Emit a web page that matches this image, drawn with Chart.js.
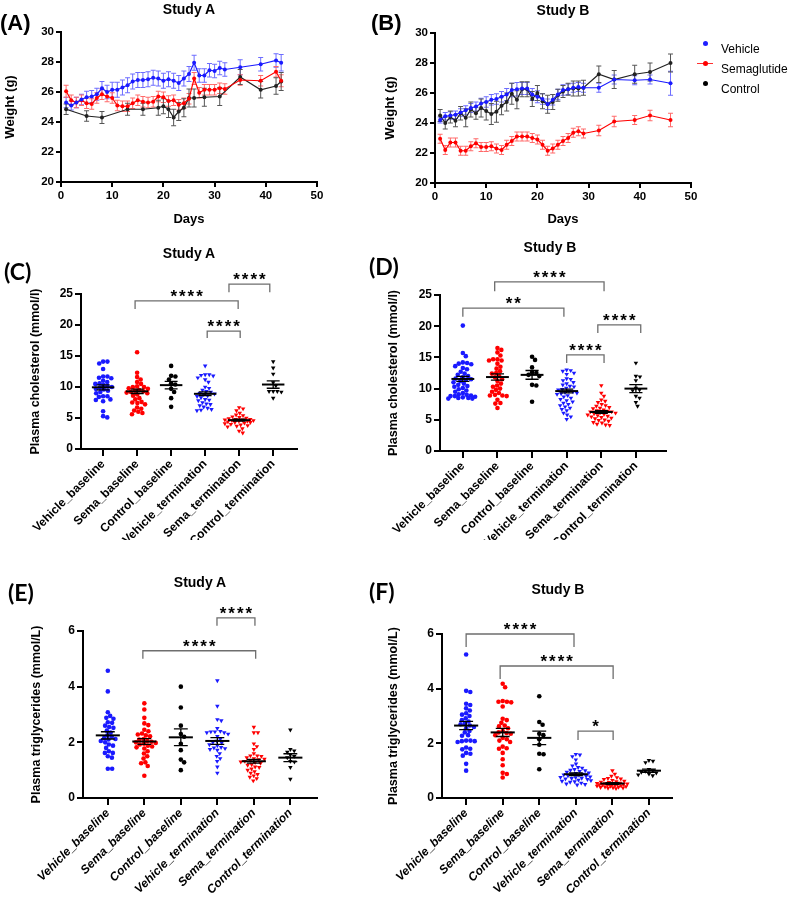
<!DOCTYPE html>
<html>
<head>
<meta charset="utf-8">
<script src="https://cdn.jsdelivr.net/npm/chart.js@4.4.1/dist/chart.umd.min.js"></script>
<style>
    body { margin: 0; background: #fff; width: 789px; height: 902px; position: relative; overflow: hidden;
           font-family: "Liberation Sans", Arial, sans-serif; }
    canvas { position: absolute; }
    .title { position: absolute; font-weight: bold; font-size: 14px; line-height: 1; white-space: nowrap; transform: translate(-50%, -50%); }
    .letter { position: absolute; font-weight: bold; font-size: 22px; line-height: 1; white-space: nowrap; }
    .letter.calib { font-family: Lato, "Liberation Sans", sans-serif; font-size: 23px; }
    .legend { position: absolute; left: 697px; font-size: 12px; line-height: 1; }
    .legend div { position: absolute; white-space: nowrap; transform: translateY(-50%); }
    .legend .dot { position: absolute; width: 5px; height: 5px; border-radius: 3px; left: 6px; top: 50%; margin-top: -2.5px; }
    .legend .ln { position: absolute; width: 16px; height: 1px; left: 0; top: 50%; }
    .legend span.txt { position: absolute; left: 24px; }
</style>
</head>
<body>

<canvas id="chartA" width="380" height="230" style="left:0;top:0"></canvas>
<canvas id="chartB" width="409" height="230" style="left:380px;top:0"></canvas>
<canvas id="chartC" width="380" height="310" style="left:0;top:230px"></canvas>
<canvas id="chartD" width="409" height="310" style="left:380px;top:230px"></canvas>
<canvas id="chartE" width="380" height="362" style="left:0;top:540px"></canvas>
<canvas id="chartF" width="409" height="362" style="left:380px;top:540px"></canvas>

<div class="letter" style="left:0;top:12px">(A)</div>
<div class="letter" style="left:371px;top:12px">(B)</div>
<div class="letter calib" style="left:4px;top:260px">(C)</div>
<div class="letter calib" style="left:369px;top:255px">(D)</div>
<div class="letter calib" style="left:8px;top:581px">(E)</div>
<div class="letter calib" style="left:369px;top:580px">(F)</div>

<div class="title" style="left:189px;top:9px">Study A</div>
<div class="title" style="left:563px;top:10px">Study B</div>
<div class="title" style="left:189px;top:253px">Study A</div>
<div class="title" style="left:550px;top:247px">Study B</div>
<div class="title" style="left:200px;top:582px">Study A</div>
<div class="title" style="left:558px;top:589px">Study B</div>

<div class="legend" style="top:0">
    <div style="top:43px"><i class="dot" style="background:#1f1fff"></i><span class="txt">Vehicle</span></div>
    <div style="top:63px"><i class="ln" style="background:#ff3030"></i><i class="dot" style="background:#ff0000"></i><span class="txt">Semaglutide</span></div>
    <div style="top:83px"><i class="dot" style="background:#000"></i><span class="txt">Control</span></div>
</div>

<script>
/* ------------------------------- Data: body weight -------------------------------*/

const DAYS_A = [1, 2, 3, 4, 5, 6, 7, 8, 9, 10, 11, 12, 13, 14, 15, 16, 17, 18, 19, 20,
                21, 22, 23, 24, 25, 26, 27, 28, 29, 30, 31, 32, 35, 39, 42, 43];
const VEHICLE_A = [25.3, 25.1, 25.3, 25.5, 25.65, 25.7, 25.85, 26.25, 26.0, 26.15, 26.15, 26.3, 26.45, 26.7,
                   26.8, 26.8, 26.85, 26.95, 26.9, 26.75, 26.85, 26.75, 26.6, 26.9, 27.2, 27.95, 27.1, 27.1,
                   27.45, 27.4, 27.6, 27.5, 27.65, 27.85, 28.1, 27.95];
const VEHICLE_A_ERR = [0.35, 0.3, 0.35, 0.35, 0.4, 0.4, 0.4, 0.45, 0.45, 0.5, 0.5, 0.5, 0.5, 0.5, 0.5, 0.5,
                       0.5, 0.5, 0.5, 0.5, 0.5, 0.5, 0.5, 0.5, 0.5, 0.5, 0.45, 0.45, 0.45, 0.45, 0.45, 0.45,
                       0.5, 0.45, 0.45, 0.55];
const SEMA_A = [26.05, 25.45, 25.3, 25.45, 25.25, 25.2, 25.6, 25.85, 25.7, 25.6, 25.1, 25.05, 25.05, 25.25,
                25.45, 25.35, 25.3, 25.35, 25.7, 25.65, 25.4, 25.45, 25.15, 25.25, 25.55, 26.9, 25.95, 26.15,
                26.15, 26.15, 26.25, 26.2, 26.8, 26.75, 27.35, 26.75];
const SEMA_A_ERR = [0.4, 0.35, 0.35, 0.35, 0.35, 0.35, 0.35, 0.35, 0.35, 0.35, 0.35, 0.35, 0.35, 0.35,
                    0.35, 0.35, 0.35, 0.35, 0.35, 0.35, 0.35, 0.35, 0.35, 0.35, 0.35, 0.4, 0.35, 0.35,
                    0.35, 0.35, 0.35, 0.35, 0.35, 0.35, 0.35, 0.4];
const DAYS_A_CONTROL = [1, 5, 8, 13, 16, 19, 20, 21, 22, 23, 24, 25, 26, 28, 31, 35, 39, 42, 43];
const CONTROL_A = [24.85, 24.4, 24.3, 24.85, 24.85, 24.95, 25.05, 24.85, 24.3, 24.7, 24.95, 25.6, 25.6,
                   25.65, 25.7, 27.0, 26.15, 26.4, 26.7];
const CONTROL_A_ERR = [0.35, 0.35, 0.4, 0.4, 0.4, 0.5, 0.5, 0.55, 0.55, 0.6, 0.6, 0.6, 0.6, 0.6, 0.6,
                       0.5, 0.55, 0.55, 0.6];

const DAYS_B = [1, 2, 3, 4, 5, 6, 7, 8, 9, 10, 11, 12, 13, 14, 15, 16, 17, 18, 19, 20,
                21, 22, 23, 24, 25, 26, 27, 28, 29, 32, 35, 39, 42, 46];
const VEHICLE_B = [24.2, 24.45, 24.5, 24.55, 24.7, 24.85, 25.0, 25.1, 25.3, 25.4, 25.55, 25.6, 25.75, 25.9,
                   26.2, 26.25, 26.3, 26.3, 25.9, 25.75, 25.6, 25.25, 25.55, 25.9, 26.2, 26.25, 26.35, 26.4,
                   26.35, 26.35, 26.9, 26.85, 26.9, 26.65];
const VEHICLE_B_ERR = [0.2, 0.25, 0.25, 0.25, 0.25, 0.3, 0.3, 0.3, 0.35, 0.35, 0.35, 0.35, 0.35, 0.4, 0.45,
                       0.45, 0.4, 0.4, 0.4, 0.4, 0.35, 0.35, 0.35, 0.35, 0.35, 0.35, 0.3, 0.3, 0.3, 0.3,
                       0.3, 0.3, 0.3, 0.8];
const SEMA_B = [22.95, 22.2, 22.7, 22.7, 22.15, 22.15, 22.45, 22.65, 22.4, 22.4, 22.45, 22.3, 22.2, 22.55,
                22.8, 23.1, 23.1, 23.1, 23.0, 22.9, 22.55, 22.15, 22.3, 22.55, 22.8, 23.0, 23.35, 23.45,
                23.3, 23.5, 24.1, 24.2, 24.5, 24.2];
const SEMA_B_ERR = [0.3, 0.3, 0.3, 0.3, 0.3, 0.3, 0.3, 0.3, 0.3, 0.3, 0.3, 0.3, 0.3, 0.3, 0.3, 0.3, 0.3,
                    0.3, 0.3, 0.3, 0.3, 0.3, 0.3, 0.3, 0.3, 0.3, 0.3, 0.3, 0.3, 0.35, 0.35, 0.3, 0.35, 0.45];
const CONTROL_B = [24.5, 24.0, 24.4, 24.15, 24.65, 24.35, 24.9, 24.65, 25.0, 24.8, 24.6, 24.75, 25.15, 25.4,
                   25.95, 25.55, 26.25, 26.25, 25.6, 26.0, 25.45, 25.25, 25.4, 25.85, 26.1, 26.25, 26.3, 26.3,
                   26.35, 27.25, 26.9, 27.25, 27.4, 28.0];
const CONTROL_B_ERR = [0.4, 0.4, 0.4, 0.4, 0.45, 0.6, 0.5, 0.4, 0.6, 0.6, 0.7, 0.7, 0.6, 0.6, 0.7, 0.6, 0.5,
                       0.5, 0.5, 0.5, 0.5, 0.6, 0.5, 0.4, 0.4, 0.4, 0.5, 0.5, 0.5, 0.55, 0.6, 0.6, 0.6, 0.6];

/* ------------------------------- Data: plasma lipids -------------------------------*/

const GROUPS = ["Vehicle_baseline", "Sema_baseline", "Control_baseline",
                "Vehicle_termination", "Sema_termination", "Control_termination"];

// Study A cholesterol (mmol/l)
const CHOL_A = [
    [14.1, 14.1, 13.8, 12.9, 11.7, 11.7, 11.5, 11.4, 11.0, 10.8, 10.6, 10.5, 10.3, 10.1, 10.0, 9.9, 9.7, 9.6,
     9.4, 9.2, 9.0, 8.5, 8.5, 8.4, 8.0, 7.9, 7.7, 6.1, 5.3, 5.1],
    [15.6, 12.3, 11.6, 11.2, 10.8, 10.5, 10.1, 10.0, 10.0, 9.8, 9.7, 9.5, 9.4, 9.3, 9.2, 9.1, 9.0, 8.8, 8.6,
     8.2, 8.0, 7.6, 7.5, 7.4, 7.2, 6.7, 6.5, 6.2, 6.0, 5.8, 5.6],
    [13.4, 11.8, 11.7, 11.2, 10.6, 10.4, 9.7, 9.2, 8.2, 6.8],
    [13.4, 12.0, 12.0, 11.9, 11.8, 11.5, 11.2, 10.8, 10.0, 9.8, 9.5, 9.3, 9.2, 9.0, 8.9, 8.8, 8.6, 8.5, 8.3,
     8.0, 7.9, 7.8, 7.5, 7.3, 7.2, 7.0, 6.8, 6.6, 6.4, 6.3, 6.2],
    [6.7, 6.5, 6.2, 5.8, 5.5, 5.4, 5.2, 5.1, 5.0, 4.9, 4.8, 4.8, 4.7, 4.7, 4.6, 4.6, 4.5, 4.5, 4.4, 4.3, 4.3,
     4.2, 4.1, 4.0, 3.9, 3.8, 3.7, 3.6, 3.3, 2.9, 2.6],
    [14.1, 13.1, 12.1, 10.7, 10.2, 9.3, 9.3, 9.3, 9.2, 8.2]
];
const CHOL_A_MEAN = [9.95, 9.3, 10.3, 8.9, 4.65, 10.4];
const CHOL_A_SEM = [0.4, 0.35, 0.6, 0.3, 0.15, 0.6];

// Study B cholesterol (mmol/l)
const CHOL_B = [
    [20.1, 15.7, 15.2, 14.2, 14.1, 14.0, 13.9, 13.6, 13.3, 13.1, 12.7, 12.4, 12.2, 12.0, 11.8, 11.6, 11.5,
     11.4, 11.2, 11.0, 10.8, 10.6, 10.4, 10.3, 10.1, 9.9, 9.7, 9.5, 9.3, 9.1, 9.0, 8.9, 8.8, 8.8, 8.7, 8.6,
     8.5, 8.5, 8.4, 8.4],
    [16.5, 16.2, 15.8, 15.3, 14.7, 14.7, 14.5, 14.5, 14.0, 13.5, 13.2, 12.8, 12.5, 12.4, 12.0, 11.8, 11.5,
     11.2, 10.8, 10.5, 10.3, 10.0, 9.8, 9.5, 9.3, 9.0, 8.9, 8.9, 8.8, 8.2, 7.7, 7.6, 6.9],
    [15.1, 14.6, 13.4, 12.6, 12.5, 12.2, 12.0, 10.6, 10.5, 7.9],
    [13.0, 12.9, 12.8, 12.5, 12.3, 11.6, 11.5, 11.3, 11.0, 10.8, 10.6, 10.4, 10.3, 10.1, 9.9, 9.8, 9.6, 9.5,
     9.4, 9.3, 9.2, 9.1, 8.9, 8.7, 8.5, 8.3, 8.1, 7.9, 7.7, 7.5, 7.3, 7.1, 6.9, 6.7, 6.5, 6.1, 5.8, 5.5, 5.1],
    [10.5, 9.3, 8.8, 8.2, 8.0, 7.8, 7.5, 7.3, 7.2, 7.0, 6.9, 6.8, 6.6, 6.5, 6.4, 6.3, 6.3, 6.2, 6.1, 6.0, 5.9,
     5.8, 5.7, 5.6, 5.5, 5.4, 5.3, 5.2, 5.0, 4.9, 4.8, 4.6, 4.5, 4.3, 4.2, 4.1],
    [14.1, 12.0, 11.9, 11.3, 10.1, 9.8, 9.7, 8.8, 8.5, 7.8, 7.2]
];
const CHOL_B_MEAN = [11.55, 11.85, 12.2, 9.6, 6.25, 10.0];
const CHOL_B_SEM = [0.4, 0.5, 0.7, 0.3, 0.2, 0.65];

// Study A triglycerides (mmol/L)
const TG_A = [
    [4.57, 3.83, 3.08, 2.95, 2.88, 2.85, 2.72, 2.70, 2.60, 2.55, 2.52, 2.42, 2.35, 2.25, 2.20, 2.15, 2.12,
     2.10, 2.05, 2.00, 1.92, 1.88, 1.80, 1.68, 1.62, 1.62, 1.50, 1.45, 1.05, 1.05],
    [3.40, 3.18, 2.88, 2.68, 2.62, 2.45, 2.40, 2.32, 2.28, 2.25, 2.22, 2.12, 2.10, 2.05, 2.02, 2.00, 1.98,
     1.95, 1.92, 1.88, 1.85, 1.82, 1.78, 1.68, 1.60, 1.50, 1.42, 1.28, 1.25, 1.15, 0.80],
    [4.00, 3.25, 2.60, 2.30, 2.20, 1.95, 1.72, 1.38, 1.28, 1.00],
    [4.22, 3.30, 2.82, 2.78, 2.50, 2.40, 2.38, 2.38, 2.35, 2.35, 2.30, 2.22, 2.12, 2.05, 2.00, 1.98, 1.92,
     1.88, 1.82, 1.80, 1.78, 1.75, 1.72, 1.60, 1.50, 1.42, 1.32, 1.12, 0.90],
    [2.55, 2.35, 2.35, 1.95, 1.85, 1.75, 1.60, 1.52, 1.52, 1.50, 1.45, 1.42, 1.40, 1.38, 1.35, 1.32, 1.30,
     1.28, 1.25, 1.20, 1.18, 1.12, 1.10, 1.05, 1.00, 0.95, 0.90, 0.85, 0.80, 0.75, 0.70, 0.62],
    [2.45, 1.75, 1.70, 1.65, 1.55, 1.50, 1.45, 1.32, 1.30, 1.10, 0.68]
];
const TG_A_MEAN = [2.25, 2.03, 2.18, 2.05, 1.32, 1.45];
const TG_A_SEM = [0.13, 0.1, 0.3, 0.12, 0.07, 0.14];

// Study B triglycerides (mmol/L)
const TG_B = [
    [5.25, 3.92, 3.88, 3.45, 3.40, 3.28, 3.20, 3.10, 3.05, 3.00, 2.92, 2.85, 2.80, 2.72, 2.70, 2.65, 2.60,
     2.55, 2.45, 2.40, 2.30, 2.28, 2.10, 2.10, 2.08, 2.08, 2.05, 1.85, 1.80, 1.78, 1.65, 1.62, 1.55, 1.25, 1.00],
    [4.18, 4.05, 3.55, 3.52, 3.52, 3.50, 3.35, 2.90, 2.85, 2.75, 2.65, 2.62, 2.55, 2.45, 2.40, 2.38, 2.35,
     2.30, 2.20, 2.15, 2.10, 2.05, 1.88, 1.82, 1.80, 1.65, 1.42, 1.20, 0.92, 0.88, 0.75],
    [3.72, 2.78, 2.68, 2.35, 2.30, 2.15, 1.95, 1.62, 1.60, 1.05],
    [1.60, 1.58, 1.52, 1.40, 1.25, 1.18, 1.12, 1.10, 1.05, 1.02, 1.00, 0.98, 0.95, 0.92, 0.90, 0.88, 0.87,
     0.85, 0.84, 0.82, 0.80, 0.78, 0.76, 0.75, 0.73, 0.72, 0.70, 0.68, 0.66, 0.64, 0.62, 0.60, 0.58, 0.55,
     0.52, 0.50, 0.48],
    [1.00, 0.88, 0.80, 0.75, 0.72, 0.70, 0.68, 0.65, 0.62, 0.60, 0.58, 0.57, 0.55, 0.54, 0.53, 0.52, 0.51,
     0.50, 0.50, 0.49, 0.48, 0.47, 0.46, 0.45, 0.44, 0.43, 0.42, 0.41, 0.40, 0.39, 0.38, 0.37, 0.36, 0.35],
    [1.38, 1.35, 1.30, 1.05, 1.00, 0.98, 0.95, 0.92, 0.88, 0.85, 0.82]
];
const TG_B_MEAN = [2.65, 2.4, 2.2, 0.87, 0.53, 1.0];
const TG_B_SEM = [0.15, 0.15, 0.25, 0.05, 0.03, 0.06];

// significance brackets: [from group, to group, bar level, tip level, label]
const SIG_CHOL_A = [[0.94, 3.97, 23.9, 22.6, "****"], [3.06, 4.03, 19.0, 17.9, "****"], [3.7, 4.9, 26.6, 25.3, "****"]];
const SIG_CHOL_B = [[0.92, 4.08, 27.1, 25.6, "****"], [0, 2.92, 22.9, 21.5, "**"],
                    [3.9, 5.14, 20.2, 18.9, "****"], [3.0, 4.08, 15.4, 14.1, "****"]];
const SIG_TG_A = [[0.96, 4.05, 5.29, 5.0, "****"], [2.99, 4.03, 6.47, 6.19, "****"]];
const SIG_TG_B = [[0, 2.95, 6.0, 5.52, "****"], [0.93, 4.02, 4.83, 4.35, "****"], [3.06, 4.02, 2.45, 2.12, "*"]];

/* ------------------------------- Styles -------------------------------*/

const BLUE = "#1a1aff";
const RED = "#ff0000";
const BLACK = "#000000";
const GROUP_COLORS = [BLUE, RED, BLACK, BLUE, RED, BLACK];

Chart.defaults.font.family = '"Liberation Sans", Arial, Helvetica, sans-serif';
Chart.defaults.font.weight = "bold";
Chart.defaults.color = "#000";
Chart.defaults.animation = false;

/* ------------------------------- Plugins -------------------------------*/

const errorBarsPlugin = {                                       // вертикальні похибки для графіків ваги
    id: "errorBars",
    beforeDatasetsDraw(chart) {
        const ctx = chart.ctx;
        const yScale = chart.scales.y;
        chart.data.datasets.forEach(function (ds, i) {
            if (!ds.errors) return;
            const meta = chart.getDatasetMeta(i);
            ctx.save();
            ctx.strokeStyle = ds.errorColor;
            ctx.lineWidth = 1;
            meta.data.forEach(function (pt, j) {
                const v = ds.data[j].y, e = ds.errors[j];
                const top = yScale.getPixelForValue(v + e);
                const bot = yScale.getPixelForValue(v - e);
                ctx.beginPath();
                ctx.moveTo(pt.x, top); ctx.lineTo(pt.x, bot);
                ctx.moveTo(pt.x - 2.5, top); ctx.lineTo(pt.x + 2.5, top);
                ctx.moveTo(pt.x - 2.5, bot); ctx.lineTo(pt.x + 2.5, bot);
                ctx.stroke();
            });
            ctx.restore();
        });
    }
};

const meanSemPlugin = {                                         // середнє ± SEM поверх точок
    id: "meanSem",
    afterDatasetsDraw(chart, args, opts) {
        if (!opts.means) return;
        const ctx = chart.ctx, xs = chart.scales.x, ys = chart.scales.y;
        ctx.save();
        ctx.strokeStyle = "#000";
        opts.means.forEach(function (m, i) {
            const s = opts.sems[i];
            const yM = ys.getPixelForValue(m);
            const yT = ys.getPixelForValue(m + s);
            const yB = ys.getPixelForValue(m - s);
            const xc = xs.getPixelForValue(i);
            const half = xs.getPixelForValue(i + 0.33) - xc;
            const cap = xs.getPixelForValue(i + 0.19) - xc;
            ctx.lineWidth = 2;
            ctx.beginPath();
            ctx.moveTo(xc - half, yM); ctx.lineTo(xc + half, yM);
            ctx.stroke();
            ctx.lineWidth = 1.3;
            ctx.beginPath();
            ctx.moveTo(xc, yT); ctx.lineTo(xc, yB);
            ctx.moveTo(xc - cap, yT); ctx.lineTo(xc + cap, yT);
            ctx.moveTo(xc - cap, yB); ctx.lineTo(xc + cap, yB);
            ctx.stroke();
        });
        ctx.restore();
    }
};

const bracketsPlugin = {                                        // скобки значущості
    id: "brackets",
    afterDraw(chart, args, opts) {
        if (!opts.items) return;
        const ctx = chart.ctx, xs = chart.scales.x, ys = chart.scales.y;
        ctx.save();
        opts.items.forEach(function (b) {
            const x1 = xs.getPixelForValue(b[0]), x2 = xs.getPixelForValue(b[1]);
            const y = ys.getPixelForValue(b[2]), tip = ys.getPixelForValue(b[3]);
            ctx.strokeStyle = "#6e6e6e";
            ctx.lineWidth = 1.3;
            ctx.beginPath();
            ctx.moveTo(x1, tip); ctx.lineTo(x1, y); ctx.lineTo(x2, y); ctx.lineTo(x2, tip);
            ctx.stroke();
            ctx.fillStyle = "#000";
            ctx.font = 'bold 17px "Liberation Sans", Arial, sans-serif';
            ctx.letterSpacing = "2px";
            ctx.textAlign = "center";
            ctx.textBaseline = "alphabetic";
            ctx.fillText(b[4], (x1 + x2) / 2 + 1, y + 1);
        });
        ctx.restore();
    }
};

/* ------------------------------- Helpers -------------------------------*/

function fixSize(w, h) {
    return function (scale) {
        if (w) scale.width = w;
        if (h) scale.height = h;
    };
}

function axisLine() {
    return { color: "#000", width: 2 };
}

function tickMarks(len) {
    return { drawOnChartArea: false, drawTicks: true, tickLength: len, color: "#000", lineWidth: 2 };
}

function toPoints(days, values) {
    return days.map(function (d, i) { return { x: d, y: values[i] }; });
}

function swarm(values, pxX, pxY, diam, maxHalf) {             // beeswarm: зсув точок у межах групи
    const sorted = values.slice().sort(function (a, b) { return b - a; });
    const placed = [];
    return sorted.map(function (v) {
        const y = v * pxY;
        const near = placed.filter(function (p) { return Math.abs(p.y - y) < diam; });
        const cands = [0];
        near.forEach(function (p) {
            const dx = Math.sqrt(diam * diam - (p.y - y) * (p.y - y));
            cands.push(p.x + dx + 0.01, p.x - dx - 0.01);
        });
        cands.sort(function (a, b) { return Math.abs(a) - Math.abs(b); });
        var x = cands.find(function (c) {
            return near.every(function (p) { return (p.x - c) * (p.x - c) + (p.y - y) * (p.y - y) >= diam * diam - 0.02; });
        });
        if (Math.abs(x) > maxHalf) {                            // щільна група: найменше перекриття в межах ширини
            var best = 0, bestGap = -1;
            for (var c = -maxHalf; c <= maxHalf; c += 0.5) {
                var gap = Math.min.apply(null, near.map(function (p) { return Math.hypot(p.x - c, p.y - y); }));
                if (gap > bestGap + 0.05) { bestGap = gap; best = c; }
            }
            x = best;
        }
        placed.push({ x: x, y: y });
        return { dx: x / pxX, y: v };
    });
}

/* ------------------------------- Weight charts -------------------------------*/

function lineDataset(label, days, values, errs, color, errColor) {
    return {
        label: label,
        data: toPoints(days, values),
        errors: errs,
        errorColor: errColor,
        showLine: true,
        borderColor: color,
        backgroundColor: color,
        borderWidth: 1.2,
        pointRadius: 2,
        pointBorderWidth: 0,
        clip: false
    };
}

function drawWeight(id, datasets, layout) {
    new Chart(document.getElementById(id), {
        type: "scatter",
        data: { datasets: datasets },
        options: {
            responsive: false,
            layout: { padding: layout.padding },
            plugins: { legend: { display: false }, tooltip: { enabled: false } },
            scales: {
                x: {
                    type: "linear", min: 0, max: 50,
                    ticks: { stepSize: 10, padding: 2, font: { size: 11.5, weight: "bold" } },
                    grid: tickMarks(5), border: axisLine(),
                    title: { display: true, text: "Days", font: { size: 13, weight: "bold" }, padding: { top: 4, bottom: 3 } },
                    afterFit: fixSize(0, layout.xh)
                },
                y: {
                    min: 20, max: 30,
                    ticks: { stepSize: 2, padding: 2, font: { size: 11.5, weight: "bold" } },
                    grid: tickMarks(5), border: axisLine(),
                    title: { display: true, text: "Weight (g)", font: { size: 13, weight: "bold" }, padding: { top: 3, bottom: 3 } },
                    afterFit: fixSize(layout.yw, 0)
                }
            }
        },
        plugins: [errorBarsPlugin]
    });
}

drawWeight("chartA", [
    lineDataset("Vehicle", DAYS_A, VEHICLE_A, VEHICLE_A_ERR, BLUE, "#6c6cff"),
    lineDataset("Semaglutide", DAYS_A, SEMA_A, SEMA_A_ERR, RED, "#ff6a6a"),
    lineDataset("Control", DAYS_A_CONTROL, CONTROL_A, CONTROL_A_ERR, "#222", "#555")
], { padding: { left: 0, top: 32, right: 63, bottom: 0 }, yw: 61, xh: 48 });

drawWeight("chartB", [
    lineDataset("Vehicle", DAYS_B, VEHICLE_B, VEHICLE_B_ERR, BLUE, "#6c6cff"),
    lineDataset("Semaglutide", DAYS_B, SEMA_B, SEMA_B_ERR, RED, "#ff6a6a"),
    lineDataset("Control", DAYS_B, CONTROL_B, CONTROL_B_ERR, "#222", "#555")
], { padding: { left: 0, top: 33, right: 98, bottom: 0 }, yw: 55, xh: 47 });

/* ------------------------------- Dot plots -------------------------------*/

function drawDots(id, groups, means, sems, sig, cfg) {
    const datasets = groups.map(function (vals, i) {
        const tri = i >= 3;
        const pts = swarm(vals, cfg.pxX, cfg.pxY, tri ? 4.1 : 4.3, cfg.pxX * 0.42);
        return {
            data: pts.map(function (p) { return { x: i + p.dx, y: p.y }; }),
            pointStyle: tri ? "triangle" : "circle",
            pointRotation: tri ? 180 : 0,
            pointRadius: tri ? 2.6 : 2.3,
            pointBorderWidth: 0,
            backgroundColor: GROUP_COLORS[i],
            borderColor: GROUP_COLORS[i],
            clip: false
        };
    });

    new Chart(document.getElementById(id), {
        type: "scatter",
        data: { datasets: datasets },
        options: {
            responsive: false,
            layout: { padding: cfg.padding },
            plugins: {
                legend: { display: false }, tooltip: { enabled: false },
                meanSem: { means: means, sems: sems },
                brackets: { items: sig }
            },
            scales: {
                x: {
                    type: "linear", min: cfg.xMin, max: cfg.xMax,
                    afterBuildTicks: function (scale) {
                        scale.ticks = GROUPS.map(function (g, i) { return { value: i }; });
                    },
                    ticks: {
                        autoSkip: false, minRotation: 45, maxRotation: 45, padding: 1,
                        font: { size: 12, weight: "bold", style: cfg.italic ? "italic" : "normal" },
                        callback: function (v) { return GROUPS[v]; }
                    },
                    grid: tickMarks(7), border: axisLine(),
                    afterFit: fixSize(0, cfg.xh)
                },
                y: {
                    min: 0, max: cfg.yMax,
                    ticks: { stepSize: cfg.yStep, padding: 2, font: { size: 12, weight: "bold" } },
                    grid: tickMarks(6), border: axisLine(),
                    title: { display: true, text: cfg.yTitle, font: { size: 12.5, weight: "bold" }, padding: { top: 2, bottom: 2 } },
                    afterFit: fixSize(cfg.yw, 0)
                }
            }
        },
        plugins: [meanSemPlugin, bracketsPlugin]
    });
}

drawDots("chartC", CHOL_A, CHOL_A_MEAN, CHOL_A_SEM, SIG_CHOL_A, {
    padding: { left: 26, top: 64, right: 83, bottom: 0 }, yw: 55, xh: 91,
    xMin: -0.65, xMax: 5.7, yMax: 25, yStep: 5, pxX: 34, pxY: 6.2,
    yTitle: "Plasma cholesterol (mmol/l)", italic: false
});

drawDots("chartD", CHOL_B, CHOL_B_MEAN, CHOL_B_SEM, SIG_CHOL_B, {
    padding: { left: 4, top: 65, right: 123, bottom: 0 }, yw: 56, xh: 89,
    xMin: -0.66, xMax: 5.87, yMax: 25, yStep: 5, pxX: 34.6, pxY: 6.24,
    yTitle: "Plasma cholesterol (mmol/l)", italic: false
});

drawDots("chartE", TG_A, TG_A_MEAN, TG_A_SEM, SIG_TG_A, {
    padding: { left: 27, top: 91, right: 63, bottom: 0 }, yw: 56, xh: 104,
    xMin: -0.68, xMax: 5.73, yMax: 6, yStep: 2, pxX: 36.5, pxY: 27.8,
    yTitle: "Plasma triglycerides (mmol/L)", italic: true
});

drawDots("chartF", TG_B, TG_B_MEAN, TG_B_SEM, SIG_TG_B, {
    padding: { left: 4, top: 94, right: 117, bottom: 0 }, yw: 58, xh: 104,
    xMin: -0.66, xMax: 5.63, yMax: 6, yStep: 2, pxX: 36.6, pxY: 27.3,
    yTitle: "Plasma triglycerides (mmol/L)", italic: true
});
</script>
</body>
</html>
